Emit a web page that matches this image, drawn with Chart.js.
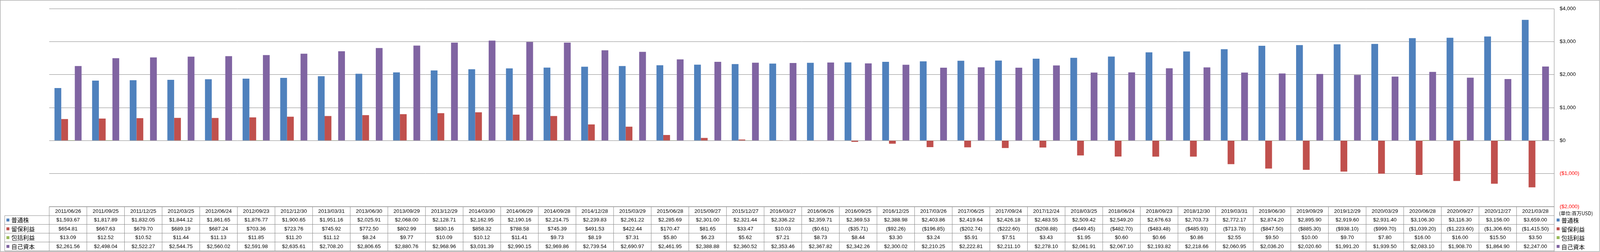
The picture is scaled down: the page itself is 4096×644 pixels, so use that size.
<!DOCTYPE html>
<html>
<head>
<meta charset="utf-8">
<script src="https://cdn.jsdelivr.net/npm/chart.js@4"></script>
<style>
  html, body { margin: 0; padding: 0; background: #fff; }
  canvas { display: block; }
</style>
</head>
<body>
<canvas id="myChart" width="4096" height="644"></canvas>
<script>
let fechas = ['2011/06/26','2011/09/25','2011/12/25','2012/03/25','2012/06/24','2012/09/23','2012/12/30','2013/03/31','2013/06/30','2013/09/29',
  '2013/12/29','2014/03/30','2014/06/29','2014/09/28','2014/12/28','2015/03/29','2015/06/28','2015/09/27','2015/12/27','2016/03/27',
  '2016/06/26','2016/09/25','2016/12/25','2017/03/26','2017/06/25','2017/09/24','2017/12/24','2018/03/25','2018/06/24','2018/09/23',
  '2018/12/30','2019/03/31','2019/06/30','2019/09/29','2019/12/29','2020/03/29','2020/06/28','2020/09/27','2020/12/27','2021/03/28'];

let futsuukabu = [1593.67,1817.89,1832.05,1844.12,1861.65,1876.77,1900.65,1951.16,2025.91,2068.00,
  2128.71,2162.95,2190.16,2214.75,2239.83,2261.22,2285.69,2301.00,2321.44,2336.22,
  2359.71,2369.53,2388.98,2403.86,2419.64,2426.18,2483.55,2509.42,2549.20,2676.63,
  2703.73,2772.17,2874.20,2895.90,2919.60,2931.40,3106.30,3116.30,3156.00,3659.00];

let ryuuho = [654.81,667.63,679.70,689.19,687.24,703.36,723.76,745.92,772.50,802.99,
  830.16,858.32,788.58,745.39,491.53,422.44,170.47,81.65,33.47,10.03,
  -0.61,-35.71,-92.26,-196.85,-202.74,-222.60,-208.88,-449.45,-482.70,-483.48,
  -485.93,-713.78,-847.50,-885.30,-938.10,-999.70,-1039.20,-1223.60,-1306.60,-1415.50];

let houkatsu = [13.09,12.52,10.52,11.44,11.13,11.85,11.20,11.12,8.24,9.77,
  10.09,10.12,11.41,9.73,8.19,7.31,5.80,6.23,5.62,7.21,
  8.73,8.44,3.30,3.24,5.91,7.51,3.43,1.95,0.60,0.66,
  0.86,2.55,9.50,10.00,9.70,7.80,16.00,16.00,15.50,3.50];

let jikoshihon = [2261.56,2498.04,2522.27,2544.75,2560.02,2591.98,2635.61,2708.20,2806.65,2880.76,
  2968.96,3031.39,2990.15,2969.86,2739.54,2690.97,2461.95,2388.88,2360.52,2353.46,
  2367.82,2342.26,2300.02,2210.25,2222.81,2211.10,2278.10,2061.91,2067.10,2193.82,
  2218.66,2060.95,2036.20,2020.60,1991.20,1939.50,2083.10,1908.70,1864.90,2247.00];

let nombres = ['普通株','留保利益','包括利益','自己資本'];
let colores = ['#4F81BD','#C0504D','#9BBB59','#8064A2'];
let unidad = '(単位:百万USD)';
let yMin = -2000, yMax = 4000, yPaso = 1000;

const lineaGris = '#878787';
const fuenteNum = '13.5px "Liberation Sans", Arial, sans-serif';
const fuenteCJK = '15px "Noto Sans CJK JP", sans-serif';

function dinero(v, dec) {
    let s = '$' + Math.abs(v).toLocaleString('en-US', {minimumFractionDigits: dec, maximumFractionDigits: dec});
    return v < 0 ? '(' + s + ')' : s;
}

// tabla de datos debajo del grafico + leyendas + marco
const tablaPlugin = {
    id: 'tabla',
    afterDraw(chart) {
        const ctx = chart.ctx;
        const area = chart.chartArea;
        const xs = chart.scales.x;
        const series = chart.data.datasets;
        const n = chart.data.labels.length;
        const colW = (area.right - area.left) / n;
        const top = area.bottom;
        const headBottom = top + 23;
        const rowH = 22.5;
        const bottom = headBottom + rowH * series.length;

        ctx.save();
        ctx.strokeStyle = lineaGris;
        ctx.lineWidth = 1;

        // marco exterior
        ctx.strokeRect(0.75, 0.75, 4094, 642);

        ctx.beginPath();
        // linea superior de cabecera
        ctx.moveTo(area.left, top); ctx.lineTo(area.right, top);
        // filas
        for (let r = 0; r <= series.length; r++) {
            let y = headBottom + r * rowH;
            ctx.moveTo(12, y); ctx.lineTo(area.right, y);
        }
        ctx.moveTo(12, headBottom); ctx.lineTo(12, bottom);
        for (let i = 0; i < n; i++) {
            let x = area.left + i * colW;
            ctx.moveTo(x, top); ctx.lineTo(x, bottom);
        }
        // borde derecho del area de trazado hasta abajo
        ctx.moveTo(area.right, area.top); ctx.lineTo(area.right, 643);
        ctx.stroke();

        // textos de la tabla
        ctx.fillStyle = '#000';
        ctx.textAlign = 'center';
        ctx.textBaseline = 'middle';
        ctx.font = fuenteNum;
        chart.data.labels.forEach((lab, i) => {
            let cx = xs.getPixelForValue(i);
            ctx.fillText(lab, cx, (top + headBottom) / 2 + 0.5);
            series.forEach((ds, r) => {
                let cy = headBottom + r * rowH + rowH / 2 + 0.5;
                ctx.fillText(dinero(ds.data[i], 2), cx, cy);
            });
        });

        // leyenda izquierda (columna de la tabla) y derecha
        ctx.textAlign = 'left';
        series.forEach((ds, r) => {
            let cy = headBottom + r * rowH + rowH / 2;
            ctx.fillStyle = ds.backgroundColor;
            ctx.fillRect(16.5, cy - 3.75, 7.5, 7.5);
            ctx.fillRect(3985, cy - 3.75, 7.5, 7.5);
            ctx.fillStyle = '#000';
            ctx.font = fuenteCJK;
            ctx.fillText(ds.label, 29, cy + 0.5);
            ctx.fillText(ds.label, 3997, cy + 1.5);
        });

        ctx.font = '12.5px "Noto Sans CJK JP", sans-serif';
        ctx.fillText(unidad, 3991, top + 17);
        ctx.restore();
    }
};

let context = document.getElementById('myChart').getContext('2d');
let chart = new Chart(context, {
    type: 'bar',
    data: {
        labels: fechas,
        datasets: [
            { label: nombres[0], data: futsuukabu, backgroundColor: colores[0] },
            { label: nombres[1], data: ryuuho, backgroundColor: colores[1] },
            { label: nombres[2], data: houkatsu, backgroundColor: colores[2] },
            { label: nombres[3], data: jikoshihon, backgroundColor: colores[3] }
        ]
    },
    options: {
        responsive: false,
        animation: false,
        layout: { padding: { left: 126, top: 9.75, right: 0, bottom: 116 } },
        datasets: { bar: { barPercentage: 1.0, categoryPercentage: 0.72 } },
        plugins: {
            legend: { display: false },
            tooltip: { enabled: false }
        },
        scales: {
            x: { display: false },
            y: {
                position: 'right',
                min: yMin,
                max: yMax,
                afterFit: (s) => { s.width = 117.25; },
                border: { display: false },
                grid: { color: lineaGris, lineWidth: 1, drawTicks: false },
                ticks: {
                    stepSize: yPaso,
                    padding: 14,
                    font: { family: '"Liberation Sans", Arial, sans-serif', size: 13.5 },
                    color: (c) => c.tick && c.tick.value < 0 ? '#FF0000' : '#000000',
                    callback: (v) => dinero(v, 0)
                }
            }
        }
    },
    plugins: [tablaPlugin]
});
</script>
</body>
</html>
